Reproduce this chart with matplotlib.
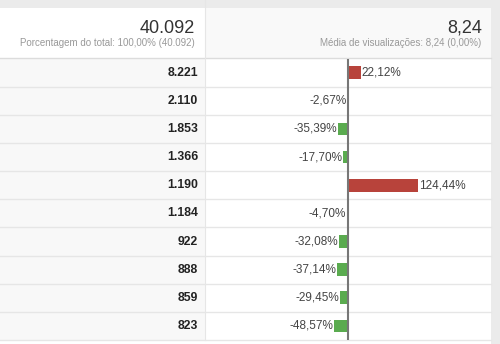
import numpy as np
import matplotlib
matplotlib.use("Agg")
import matplotlib.pyplot as plt
from matplotlib.patches import Rectangle

plt.rcParams['font.family'] = ['Liberation Sans', 'DejaVu Sans']

# ---- data ----
views = [8221, 2110, 1853, 1366, 1190, 1184, 922, 888, 859, 823]
pct_vs_avg = [22.12, -2.67, -35.39, -17.70, 124.44, -4.70, -32.08, -37.14, -29.45, -48.57]
total_views = "40.092"
total_subtitle = "Porcentagem do total: 100,00% (40.092)"
avg_views = "8,24"
avg_subtitle = "Média de visualizações: 8,24 (0,00%)"

W, H = 500, 344
fig = plt.figure(figsize=(W / 100, H / 100), dpi=100)
fig.patch.set_facecolor('white')

# background / table axes in pixel coordinates
ax0 = fig.add_axes([0, 0, 1, 1])
ax0.set_xlim(0, W)
ax0.set_ylim(H, 0)
ax0.axis('off')

div_x = 204.5
strip_x = 491
head_bot = 57.5
row_top = 58.6
row_bot = 340.0
n = len(views)
row_h = (row_bot - row_top) / n

# top gray band
ax0.add_patch(Rectangle((0, 0), W, 8, color='#ebebeb', lw=0))
# header cells
ax0.add_patch(Rectangle((0, 8), div_x, head_bot - 8, color='white', lw=0))
ax0.add_patch(Rectangle((div_x, 8), strip_x - div_x, head_bot - 8, color='#f9f9f9', lw=0))
# data columns
ax0.add_patch(Rectangle((0, head_bot), div_x, row_bot - head_bot, color='#f8f8f8', lw=0))
ax0.add_patch(Rectangle((div_x, head_bot), strip_x - div_x, row_bot - head_bot, color='white', lw=0))
# right strip
ax0.add_patch(Rectangle((strip_x, 0), W - strip_x, H, color='#ebebeb', lw=0))

# lines
ax0.plot([0, strip_x], [head_bot, head_bot], color='#dcdcdc', lw=1)
for i in range(1, n + 1):
    yy = row_top + i * row_h
    ax0.plot([0, strip_x], [yy, yy], color='#e6e6e6', lw=1)
ax0.plot([div_x, div_x], [0, row_bot], color='#e6e6e6', lw=0.8)

# header texts
ax0.text(195, 32.7, total_views, ha='right', va='baseline', fontsize=13, color='#333333')
ax0.text(195, 46, total_subtitle, ha='right', va='baseline', fontsize=7, color='#999999')
ax0.text(481.7, 32.7, avg_views, ha='right', va='baseline', fontsize=13, color='#333333')
ax0.text(481.7, 46, avg_subtitle, ha='right', va='baseline', fontsize=7, color='#999999')

# row values
for i, v in enumerate(views):
    yc = row_top + (i + 0.5) * row_h
    ax0.text(198, yc, f"{v:,}".replace(',', '.'), ha='right', va='center',
             fontsize=8.8, fontweight='bold', color='#222222')

# bar axes
ax1 = fig.add_axes([div_x / W, (H - row_bot) / H, (strip_x - div_x) / W, (row_bot - row_top) / H])
ax1.patch.set_alpha(0)
k = 0.515

def fwd(x):
    x = np.asarray(x, dtype=float)
    return np.where(x < 0, x * k, x)

def inv(x):
    x = np.asarray(x, dtype=float)
    return np.where(x < 0, x / k, x)

ax1.set_xscale('function', functions=(fwd, inv))
ax1.set_xlim(-494.3, 253.4)
ax1.set_ylim(n - 0.5, -0.5)
ax1.axis('off')

ypos = np.arange(n)
colors = ['#b8433b' if p > 0 else '#5aab4f' for p in pct_vs_avg]
ax1.barh(ypos, pct_vs_avg, height=0.45, color=colors, lw=0)
ax1.axvline(0, color='#777777', lw=1.5)

for y, p in zip(ypos, pct_vs_avg):
    lab = f"{p:.2f}%".replace('.', ',')
    if p > 0:
        ax1.annotate(lab, (p, y), xytext=(0.8, 0), textcoords='offset points',
                     ha='left', va='center', fontsize=8.5, color='#444444')
    else:
        ax1.annotate(lab, (p, y), xytext=(-0.5, 0), textcoords='offset points',
                     ha='right', va='center', fontsize=8.5, color='#444444')

fig.savefig('out.png', dpi=100)
